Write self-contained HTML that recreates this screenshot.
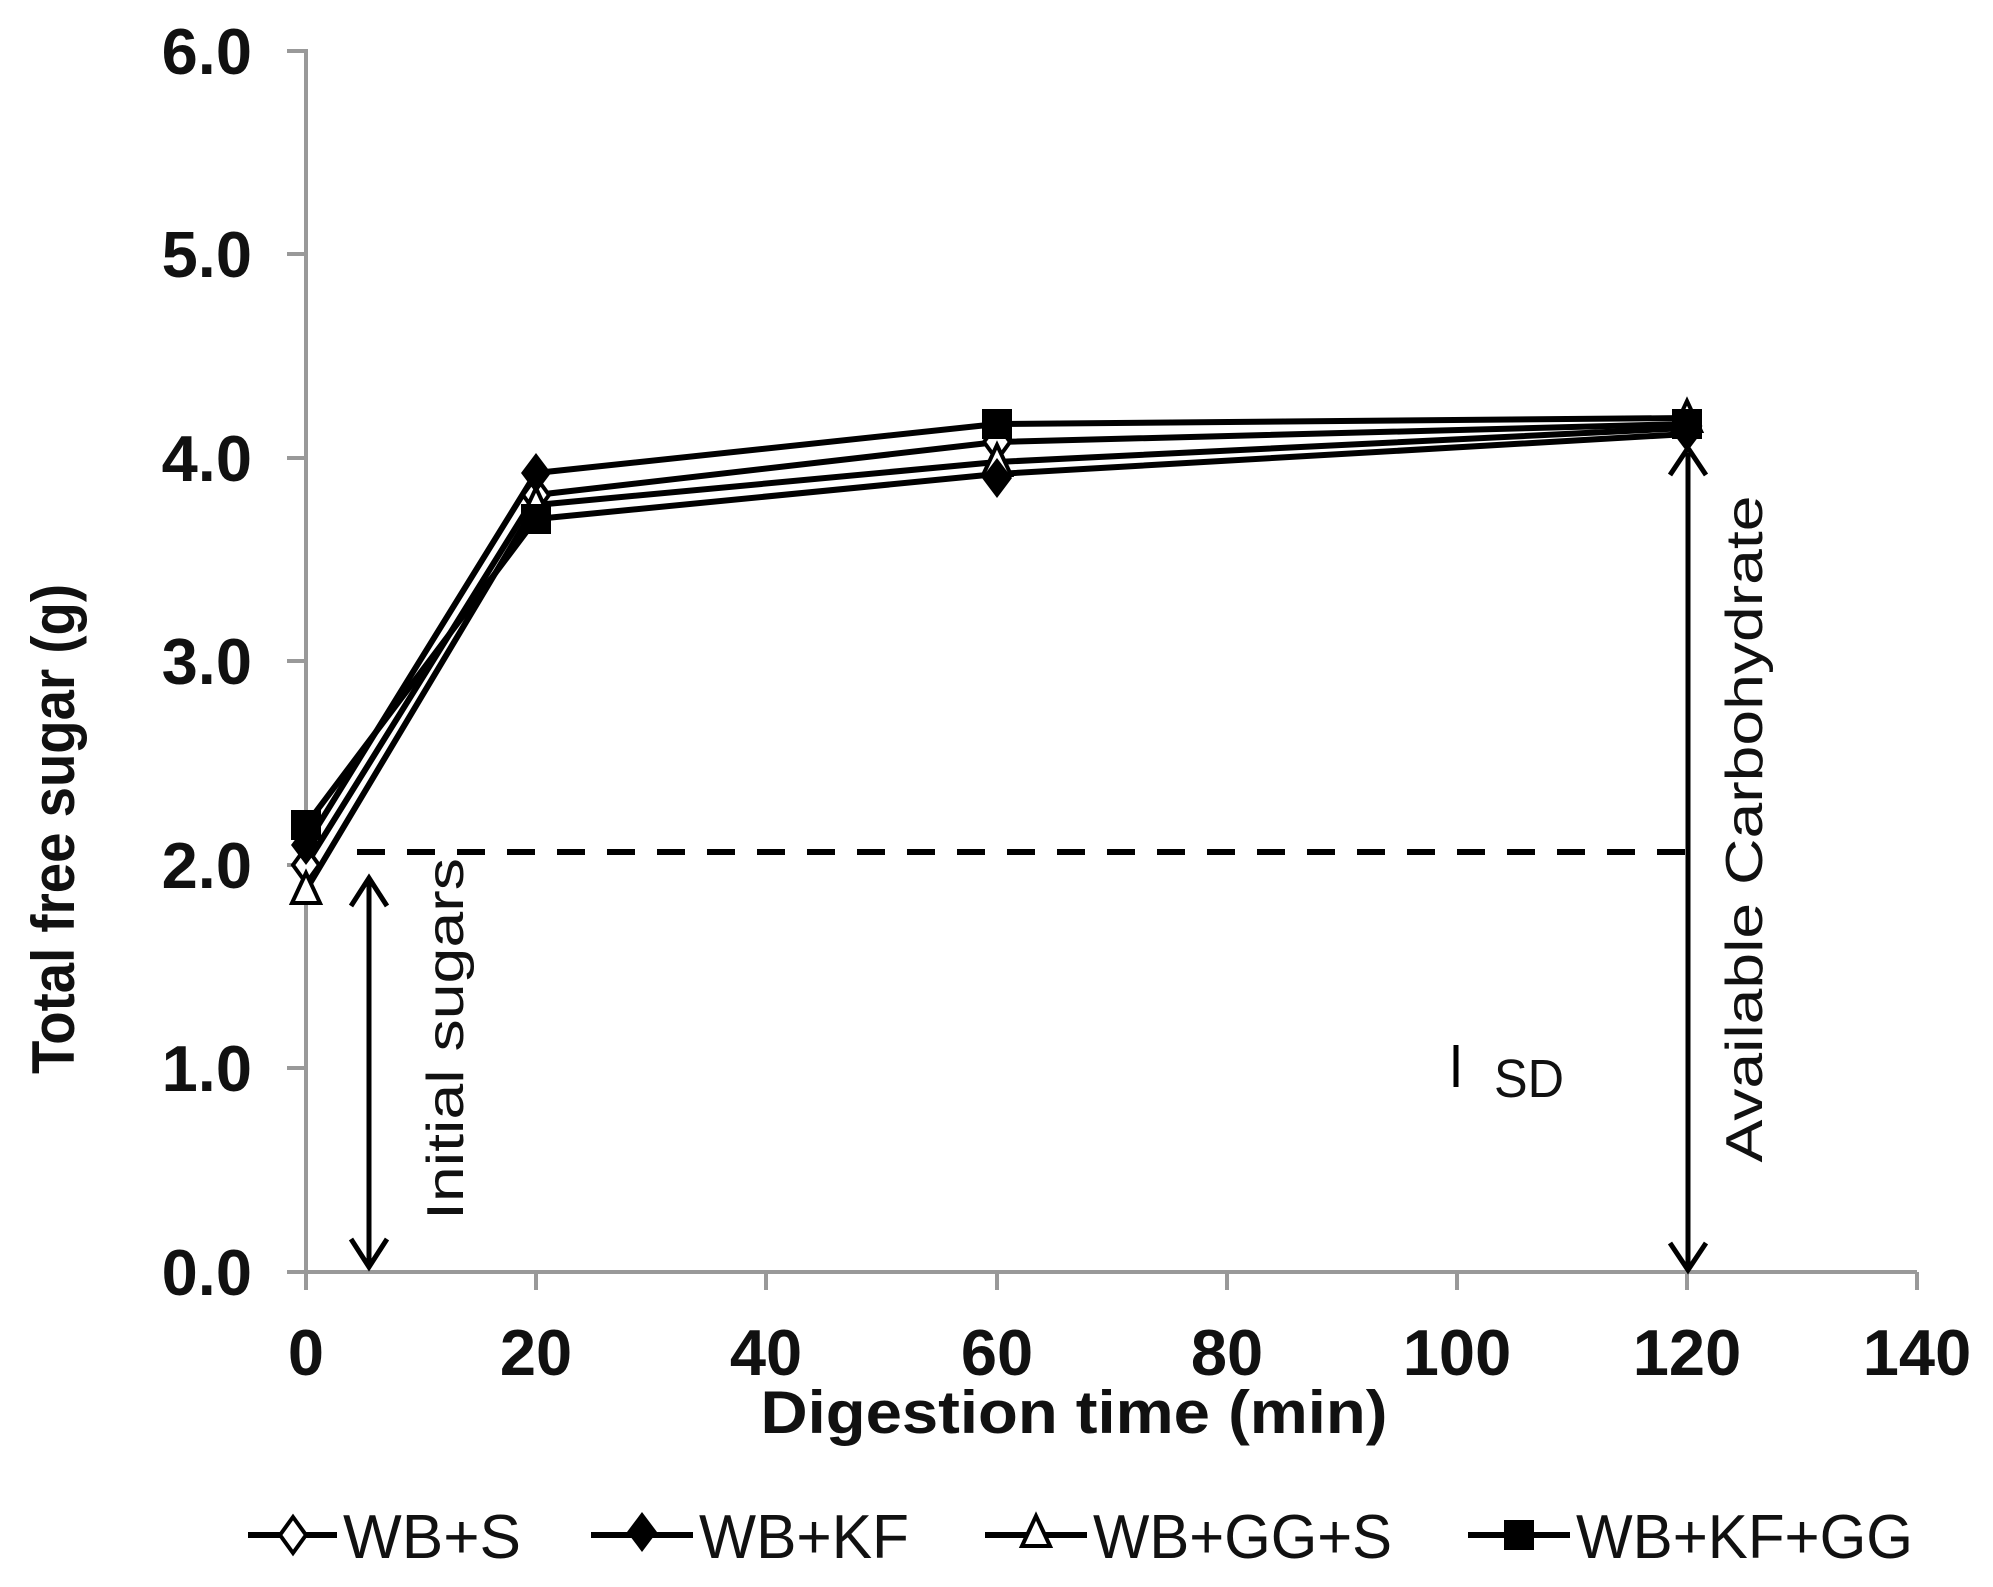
<!DOCTYPE html>
<html><head><meta charset="utf-8"><style>body{margin:0;background:#fff}</style></head>
<body>
<svg width="1993" height="1582" viewBox="0 0 1993 1582" xmlns="http://www.w3.org/2000/svg" font-family="Liberation Sans, sans-serif">
<defs>
<g id="od"><polygon points="0,-18 13,0 0,18 -13,0" fill="#fff" stroke="#000" stroke-width="4"/></g>
<g id="fd"><polygon points="0,-20 15,0 0,20 -15,0" fill="#000"/></g>
<g id="tr"><polygon points="0,-17 14,13 -14,13" fill="#fff" stroke="#000" stroke-width="4"/></g>
<g id="sq"><rect x="-15" y="-15" width="30" height="30" fill="#000"/></g>
</defs>
<g stroke="#999" stroke-width="4" fill="none">
<line x1="306" y1="49" x2="306" y2="1274"/>
<line x1="304" y1="1272" x2="1917" y2="1272"/>
<line x1="287" y1="51" x2="306" y2="51"/>
<line x1="287" y1="254" x2="306" y2="254"/>
<line x1="287" y1="458" x2="306" y2="458"/>
<line x1="287" y1="661" x2="306" y2="661"/>
<line x1="287" y1="865" x2="306" y2="865"/>
<line x1="287" y1="1068" x2="306" y2="1068"/>
<line x1="287" y1="1272" x2="306" y2="1272"/>
<line x1="306" y1="1272" x2="306" y2="1290"/>
<line x1="536" y1="1272" x2="536" y2="1290"/>
<line x1="766" y1="1272" x2="766" y2="1290"/>
<line x1="997" y1="1272" x2="997" y2="1290"/>
<line x1="1227" y1="1272" x2="1227" y2="1290"/>
<line x1="1457" y1="1272" x2="1457" y2="1290"/>
<line x1="1687" y1="1272" x2="1687" y2="1290"/>
<line x1="1917" y1="1272" x2="1917" y2="1290"/>
</g>
<g font-weight="bold" font-size="65" text-anchor="end" fill="#111">
<text x="252" y="74">6.0</text><text x="252" y="277">5.0</text><text x="252" y="481">4.0</text>
<text x="252" y="684">3.0</text><text x="252" y="888">2.0</text><text x="252" y="1091">1.0</text><text x="252" y="1295">0.0</text>
</g>
<g font-weight="bold" font-size="65" text-anchor="middle" fill="#111">
<text x="306" y="1375">0</text><text x="536" y="1375">20</text><text x="766" y="1375">40</text><text x="997" y="1375">60</text>
<text x="1227" y="1375">80</text><text x="1457" y="1375">100</text><text x="1687" y="1375">120</text><text x="1917" y="1375">140</text>
</g>
<text x="1074" y="1433" font-weight="bold" font-size="60" text-anchor="middle" textLength="627" lengthAdjust="spacingAndGlyphs" fill="#111">Digestion time (min)</text>
<text transform="translate(74,829) rotate(-90)" font-weight="bold" font-size="60" text-anchor="middle" textLength="490" lengthAdjust="spacingAndGlyphs" fill="#111">Total free sugar (g)</text>
<line x1="357" y1="852" x2="1688" y2="852" stroke="#000" stroke-width="6" stroke-dasharray="28,22"/>
<g stroke="#000" stroke-width="5" fill="none">
<line x1="369" y1="880" x2="369" y2="1265"/>
<polyline points="351,906 369,878 387,906"/>
<polyline points="351,1239 369,1267 387,1239"/>
<line x1="1688" y1="453" x2="1688" y2="1268"/>
<polyline points="1670,475 1688,448 1706,475"/>
<polyline points="1670,1243 1688,1270 1706,1243"/>
<line x1="1456" y1="1045" x2="1456" y2="1087"/>
</g>
<text transform="translate(463,1039) rotate(-90)" font-size="52" text-anchor="middle" textLength="362" lengthAdjust="spacingAndGlyphs" fill="#111">Initial sugars</text>
<text transform="translate(1762,829) rotate(-90)" font-size="52" text-anchor="middle" textLength="667" lengthAdjust="spacingAndGlyphs" fill="#111">Available Carbohydrate</text>
<text x="1494" y="1097" font-size="54" textLength="70" lengthAdjust="spacingAndGlyphs" fill="#111">SD</text>
<g stroke="#000" stroke-width="6" fill="none">
<polyline points="306,845 536,473 997,424 1687,418"/>
<polyline points="306,865 536,495 997,442 1687,424"/>
<polyline points="306,890 536,505 997,462 1687,428"/>
<polyline points="306,825 536,519 997,474 1687,434"/>
</g>
<use href="#od" x="306" y="865"/><use href="#od" x="536" y="495"/><use href="#od" x="997" y="442"/><use href="#od" x="1687" y="426"/>
<use href="#tr" x="306" y="890"/><use href="#tr" x="536" y="505"/><use href="#tr" x="997" y="462"/><use href="#tr" x="1687" y="418"/>
<use href="#fd" x="306" y="845"/><use href="#fd" x="536" y="473"/><use href="#fd" x="997" y="478"/><use href="#fd" x="1687" y="432"/>
<use href="#sq" x="306" y="825"/><use href="#sq" x="536" y="519"/><use href="#sq" x="997" y="424"/><use href="#sq" x="1687" y="424"/>
<g stroke="#000" stroke-width="6">
<line x1="248" y1="1535" x2="337" y2="1535"/>
<line x1="591" y1="1535" x2="693" y2="1535"/>
<line x1="985" y1="1535" x2="1087" y2="1535"/>
<line x1="1468" y1="1535" x2="1570" y2="1535"/>
</g>
<use href="#od" x="293" y="1535"/><use href="#fd" x="642" y="1532"/><use href="#tr" x="1036" y="1533"/><use href="#sq" x="1519" y="1535"/>
<g font-size="62" fill="#111">
<text x="343" y="1558" textLength="178" lengthAdjust="spacingAndGlyphs">WB+S</text>
<text x="699" y="1558" textLength="210" lengthAdjust="spacingAndGlyphs">WB+KF</text>
<text x="1093" y="1558" textLength="299" lengthAdjust="spacingAndGlyphs">WB+GG+S</text>
<text x="1576" y="1558" textLength="337" lengthAdjust="spacingAndGlyphs">WB+KF+GG</text>
</g>
</svg>
</body></html>
